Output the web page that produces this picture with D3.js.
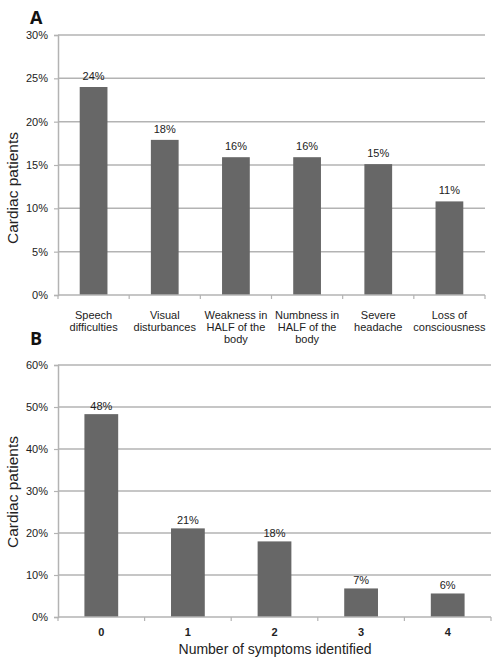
<!DOCTYPE html>
<html><head><meta charset="utf-8">
<script src="https://cdn.jsdelivr.net/npm/d3@7"></script>
<style>body{margin:0;background:#fff}svg{display:block}</style>
</head><body>
<svg id="c" width="495" height="665"></svg>
<script>
// Panel A data
const symptomCategories = ["Speech difficulties","Visual disturbances","Weakness in HALF of the body","Numbness in HALF of the body","Severe headache","Loss of consciousness"];
const symptomLabelLines = [["Speech","difficulties"],["Visual","disturbances"],["Weakness in","HALF of the","body"],["Numbness in","HALF of the","body"],["Severe","headache"],["Loss of","consciousness"]];
const symptomValues = [24.0, 17.9, 15.9, 15.9, 15.1, 10.8];
const symptomTicks = [0, 5, 10, 15, 20, 25, 30];
// Panel B data
const countCategories = ["0","1","2","3","4"];
const countValues = [48.3, 21.1, 18.0, 6.8, 5.6];
const countTicks = [0, 10, 20, 30, 40, 50, 60];

const svg = d3.select("#c");
const FONT = "'Liberation Sans', Arial, sans-serif";
const barColor = "#676767";
const gridColor = "#b3b3b3";
const fmt = d => d3.format(".0f")(d) + "%";

function panel(cfg) {
  const g = svg.append("g");
  const x = d3.scaleBand().domain(cfg.cats).range([cfg.x0, cfg.x1]).paddingInner(0.61).paddingOuter(0.305);
  const y = d3.scaleLinear().domain([0, cfg.max]).range([cfg.y0, cfg.y1]);
  // gridlines (excluding 0)
  g.selectAll(".grid").data(cfg.ticks.filter(t => t > 0)).join("line")
    .attr("x1", cfg.x0).attr("x2", cfg.x1)
    .attr("y1", d => y(d)).attr("y2", d => y(d))
    .attr("stroke", gridColor).attr("stroke-width", 1.5);
  // y axis
  const ya = d3.axisLeft(y).tickValues(cfg.ticks).tickFormat(d => d + "%").tickSize(4).tickPadding(6);
  const yg = g.append("g").attr("transform", `translate(${cfg.x0},0)`).call(ya);
  yg.select(".domain").attr("stroke", gridColor).attr("stroke-width", 1.5);
  yg.selectAll(".tick line").attr("stroke", gridColor).attr("stroke-width", 1.2);
  yg.selectAll(".tick text").attr("font-family", FONT).attr("font-size", 11).attr("fill", "#222");
  // bars
  g.selectAll(".bar").data(cfg.values).join("rect")
    .attr("x", (d, i) => x(cfg.cats[i])).attr("width", x.bandwidth())
    .attr("y", d => y(d)).attr("height", d => y(0) - y(d))
    .attr("fill", barColor);
  // value labels
  g.selectAll(".val").data(cfg.values).join("text")
    .attr("x", (d, i) => x(cfg.cats[i]) + x.bandwidth() / 2)
    .attr("y", d => y(d) - cfg.labOff)
    .attr("text-anchor", "middle").attr("font-family", FONT).attr("font-size", 11)
    .attr("fill", "#222").text(d => fmt(d));
  // x axis line
  g.append("line").attr("x1", cfg.x0).attr("x2", cfg.x1).attr("y1", y(0)).attr("y2", y(0))
    .attr("stroke", gridColor).attr("stroke-width", 1.5);
  // x ticks at band boundaries
  const bounds = cfg.cats.map(c => x(c) - x.step() * 0.305).concat([cfg.x1]);
  g.selectAll(".xt").data(bounds).join("line")
    .attr("x1", d => d).attr("x2", d => d).attr("y1", y(0)).attr("y2", y(0) + 4)
    .attr("stroke", gridColor).attr("stroke-width", 1.2);
  // panel letter
  svg.append("text").attr("x", 30).attr("y", cfg.letterY).attr("font-family", "'Open Sans', sans-serif")
    .attr("font-weight", 700).attr("font-size", 18).attr("fill", "#111").text(cfg.letter);
  // y title
  svg.append("text").attr("transform", `translate(18,${cfg.titleY}) rotate(-90)`)
    .attr("text-anchor", "middle").attr("font-family", FONT).attr("font-size", 15.5)
    .attr("fill", "#222").text("Cardiac patients");
  return { g, x, y };
}

const A = panel({ cats: symptomCategories, values: symptomValues, ticks: symptomTicks, max: 30,
  x0: 58, x1: 485, y0: 295, y1: 35, labOff: 7, letter: "A", letterY: 24, titleY: 188 });
A.g.selectAll(".cat").data(symptomLabelLines).join("text")
  .attr("text-anchor", "middle").attr("font-family", FONT).attr("font-size", 11).attr("fill", "#222")
  .attr("transform", (d, i) => `translate(${A.x(symptomCategories[i]) + A.x.bandwidth() / 2},319)`)
  .selectAll("tspan").data(d => d).join("tspan")
  .attr("x", 0).attr("y", (d, j) => j * 12).text(d => d);

const B = panel({ cats: countCategories, values: countValues, ticks: countTicks, max: 60,
  x0: 58, x1: 491, y0: 617, y1: 365, labOff: 4, letter: "B", letterY: 345, titleY: 492 });
B.g.selectAll(".cat").data(countCategories).join("text")
  .attr("x", d => B.x(d) + B.x.bandwidth() / 2).attr("y", 636)
  .attr("text-anchor", "middle").attr("font-family", FONT).attr("font-size", 11)
  .attr("font-weight", 700).attr("fill", "#222").text(d => d);
svg.append("text").attr("x", 275).attr("y", 654).attr("text-anchor", "middle")
  .attr("font-family", FONT).attr("font-size", 14).attr("fill", "#222").text("Number of symptoms identified");
</script>
</body></html>
